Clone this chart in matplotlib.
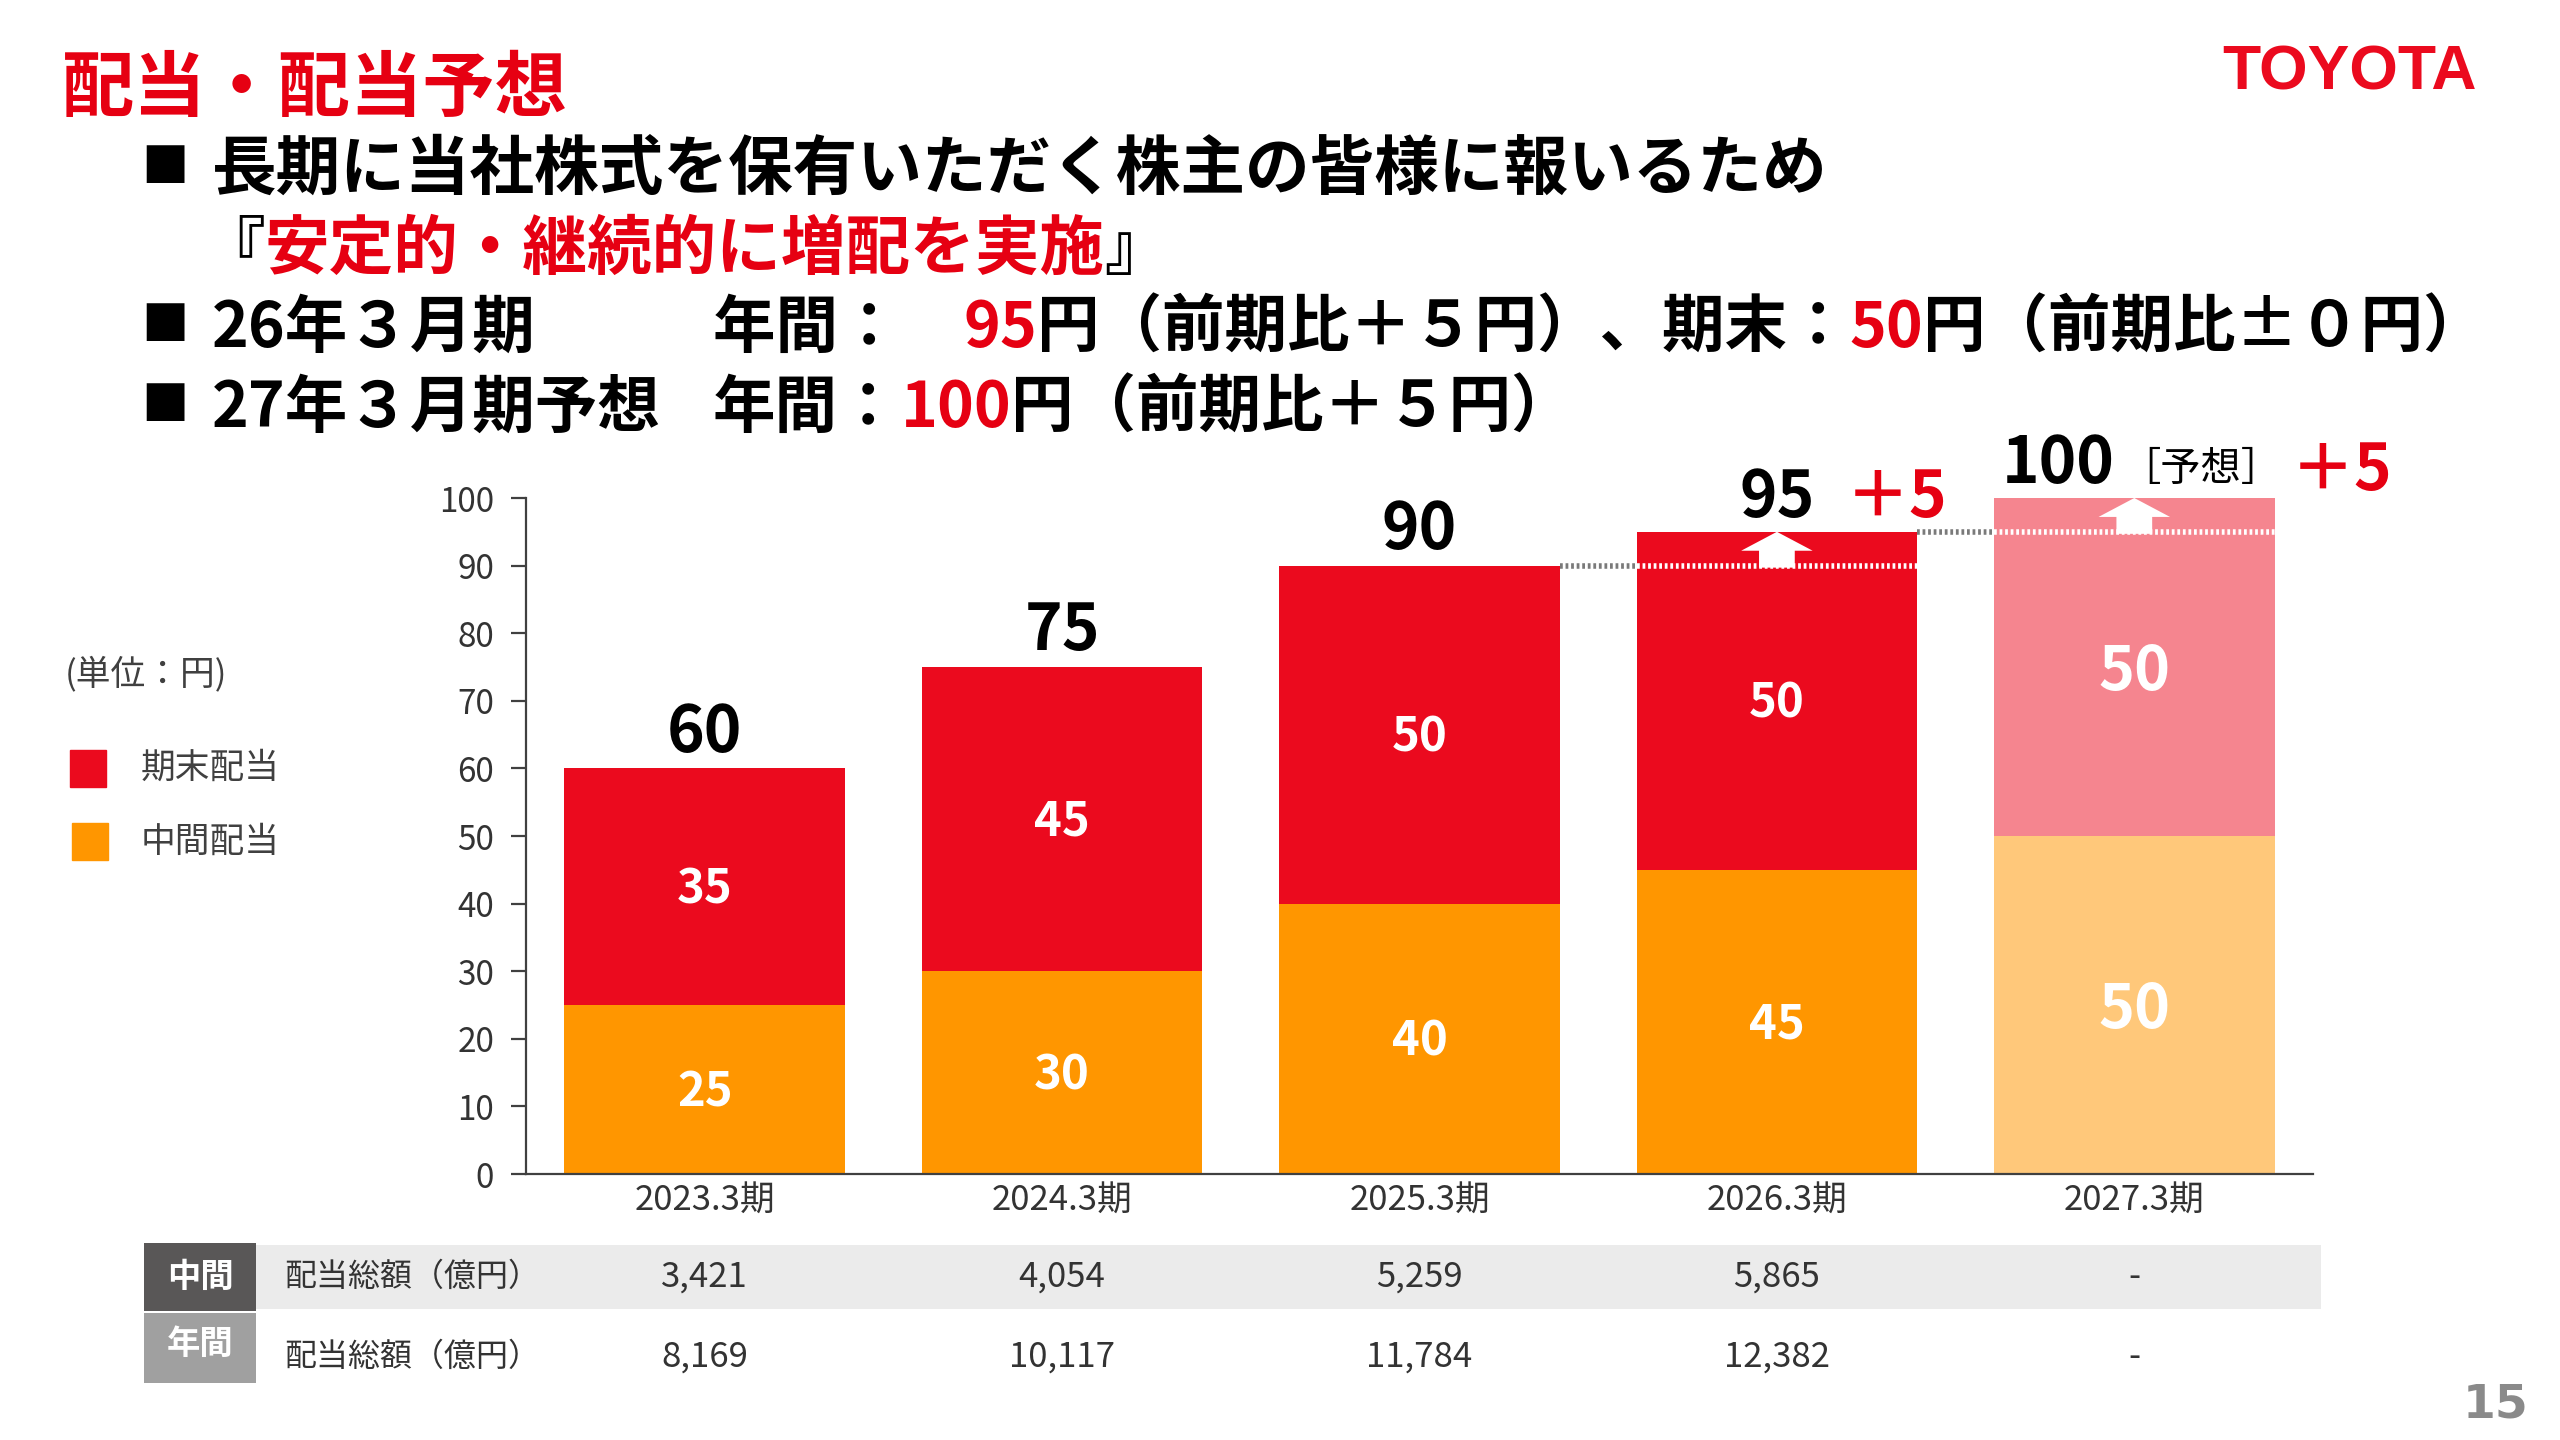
import matplotlib
matplotlib.use('Agg')
import matplotlib.pyplot as plt
from matplotlib.patches import Rectangle, FancyArrow
import matplotlib.transforms as mtransforms
import numpy as np

plt.rcParams['font.family'] = ['Noto Sans CJK JP', 'DejaVu Sans']

# ---------------- data ----------------
periods = ['2023.3期', '2024.3期', '2025.3期', '2026.3期', '2027.3期']
interim = [25, 30, 40, 45, 50]
year_end = [35, 45, 50, 50, 50]
forecast = [False, False, False, False, True]
show_change = [False, False, False, True, True]
interim_total = ['3,421', '4,054', '5,259', '5,865', '-']
annual_total = ['8,169', '10,117', '11,784', '12,382', '-']
yticks = list(range(0, 101, 10))

# ---------------- style ----------------
RED = '#EB0A1E'
ORANGE = '#FF9600'
RED_F = '#F5858F'
ORANGE_F = '#FFC87A'
TITLE_RED = '#E60012'
TXT = '#333333'

W, H = 2560, 1440
fig = plt.figure(figsize=(25.6, 14.4), dpi=100)
bg = fig.add_axes([0, 0, 1, 1])
bg.set_xlim(0, 1); bg.set_ylim(0, 1); bg.axis('off')


def fx(px):
    return px / W


def fy(py):
    return 1 - py / H


def chain(first, parts, size, weight='bold'):
    prev = first
    for s, c in parts:
        prev = bg.annotate(s, xy=(1, 0), xycoords=prev, ha='left', va='bottom',
                           fontsize=size, fontweight=weight, color=c,
                           annotation_clip=False)
    return prev


def bullet(ybase):
    bg.text(fx(141), fy(ybase - 7), '■', fontsize=34, fontweight='bold',
            color='black', ha='left', va='baseline')


# ---------------- header ----------------
bg.text(fx(62), fy(90), '配当・配当予想', fontsize=52, fontweight='bold',
        color=TITLE_RED, ha='left', va='center')
bg.text(fx(2222), fy(89), 'TOYOTA', fontsize=45, fontweight='bold',
        color=RED, ha='left', va='baseline', family='Liberation Sans')
bg.text(fx(2528), fy(1418), '15', fontsize=34, fontweight='bold',
        color='#8A8A8A', ha='right', va='baseline', family='DejaVu Sans')

BL = 46.5
BS = 45
bullet(189)
bg.text(fx(212), fy(189), '長期に当社株式を保有いただく株主の皆様に報いるため',
        fontsize=BL, fontweight='bold', color='black', ha='left', va='baseline')
t = bg.text(fx(200), fy(269), '『', fontsize=BL, fontweight='bold',
            color='black', ha='left', va='baseline')
chain(t, [('安定的・継続的に増配を実施', TITLE_RED), ('』', 'black')], BL)

bullet(347)
bg.text(fx(212), fy(347), '26年３月期', fontsize=BS, fontweight='bold',
        color='black', ha='left', va='baseline')
t = bg.text(fx(713), fy(347), '年間：　', fontsize=BS, fontweight='bold',
            color='black', ha='left', va='baseline')
chain(t, [('95', TITLE_RED), ('円（前期比＋５円）、期末：', 'black'),
          ('50', TITLE_RED), ('円（前期比±０円）', 'black')], BS)

bullet(427)
bg.text(fx(212), fy(427), '27年３月期予想', fontsize=BS, fontweight='bold',
        color='black', ha='left', va='baseline')
t = bg.text(fx(713), fy(427), '年間：', fontsize=BS, fontweight='bold',
            color='black', ha='left', va='baseline')
chain(t, [('100', TITLE_RED), ('円（前期比＋５円）', 'black')], BS)

# ---------------- legend ----------------
bg.text(fx(65), fy(674), '(単位：円)', fontsize=25, color='#404040',
        ha='left', va='center')
bg.add_patch(Rectangle((fx(70), fy(787)), fx(36), 37 / H, color=RED))
bg.text(fx(141), fy(768), '期末配当', fontsize=25, color='#404040',
        ha='left', va='center')
bg.add_patch(Rectangle((fx(72), fy(860)), fx(36), 37 / H, color=ORANGE))
bg.text(fx(141), fy(842), '中間配当', fontsize=25, color='#404040',
        ha='left', va='center')

# ---------------- chart ----------------
ax = fig.add_axes([fx(526), fy(1174), fx(2313) - fx(526), (1174 - 498) / H])
ax.patch.set_alpha(0)
x = np.arange(len(periods))
bw = 0.785
totals = [a + b for a, b in zip(interim, year_end)]
c_low = [ORANGE_F if f else ORANGE for f in forecast]
c_up = [RED_F if f else RED for f in forecast]
ax.bar(x, interim, bw, color=c_low, zorder=2)
ax.bar(x, year_end, bw, bottom=interim, color=c_up, zorder=2)

for i in range(len(x)):
    s = 44 if forecast[i] else 34
    dy = -4 if forecast[i] else -2
    ax.annotate(str(interim[i]), xy=(x[i], interim[i] / 2), xytext=(0, dy),
                textcoords='offset points', ha='center', va='center',
                fontsize=s, fontweight='bold', color='white', zorder=5)
    ax.annotate(str(year_end[i]), xy=(x[i], interim[i] + year_end[i] / 2),
                xytext=(0, dy), textcoords='offset points', ha='center',
                va='center', fontsize=s, fontweight='bold', color='white',
                zorder=5)

for i in range(len(x)):
    if not show_change[i]:
        ax.annotate(str(totals[i]), xy=(x[i], totals[i]), xytext=(0, 12),
                    textcoords='offset points', ha='center', va='baseline',
                    fontsize=46, fontweight='bold', color='black',
                    annotation_clip=False)
        continue
    diff = totals[i] - totals[i - 1]
    if forecast[i]:
        ax.annotate(str(totals[i]), xy=(x[i], totals[i]), xytext=(-55, 11),
                    textcoords='offset points', ha='center', va='baseline',
                    fontsize=46, fontweight='bold', color='black',
                    annotation_clip=False)
        ax.annotate('［予想］', xy=(x[i], totals[i]), xytext=(48, 12),
                    textcoords='offset points', ha='center', va='baseline',
                    fontsize=29, color='black', annotation_clip=False)
        ax.annotate(f'＋{diff}', xy=(x[i], totals[i]), xytext=(149, 6),
                    textcoords='offset points', ha='center', va='baseline',
                    fontsize=46, fontweight='bold', color=TITLE_RED,
                    annotation_clip=False)
    else:
        ax.annotate(str(totals[i]), xy=(x[i], totals[i]), xytext=(0, 11),
                    textcoords='offset points', ha='center', va='baseline',
                    fontsize=46, fontweight='bold', color='black',
                    annotation_clip=False)
        ax.annotate(f'＋{diff}', xy=(x[i], totals[i]), xytext=(86, 11),
                    textcoords='offset points', ha='center', va='baseline',
                    fontsize=46, fontweight='bold', color=TITLE_RED,
                    annotation_clip=False)
    # dotted reference line and arrow
    yprev = totals[i - 1]
    ax.plot([x[i - 1] + bw / 2, x[i] - bw / 2], [yprev, yprev], color='#7A7A7A',
            lw=4, ls=(0, (0.5, 0.5)), zorder=3, dash_capstyle='butt')
    ax.plot([x[i] - bw / 2, x[i] + bw / 2], [yprev, yprev], color='white',
            lw=4, ls=(0, (0.5, 0.5)), zorder=3, dash_capstyle='butt')
    ax.add_patch(FancyArrow(x[i], yprev - 0.3, 0, diff + 0.3, width=0.1,
                            head_width=0.2, head_length=2.8,
                            length_includes_head=True, color='white',
                            lw=0, zorder=4))

ax.set_xlim(-0.5, 4.5)
ax.set_ylim(0, 100)
ax.set_yticks(yticks)
for sp in ['top', 'right']:
    ax.spines[sp].set_visible(False)
for sp in ['left', 'bottom']:
    ax.spines[sp].set_color('#404040')
    ax.spines[sp].set_linewidth(1.6)
ax.tick_params(axis='y', length=11, width=1.6, color='#404040', labelsize=24,
               labelcolor=TXT, pad=12)
ax.set_xticks(x, periods)
ax.tick_params(axis='x', length=0, labelsize=25, labelcolor=TXT, pad=7)

# ---------------- table ----------------
bg.add_patch(Rectangle((fx(256), fy(1309)), fx(2321 - 256), 64 / H,
                       color='#EBEBEB', lw=0))
bg.add_patch(Rectangle((fx(144), fy(1311)), fx(112), 68 / H,
                       color='#595757', lw=0))
bg.add_patch(Rectangle((fx(144), fy(1383)), fx(112), 70 / H,
                       color='#A0A0A0', lw=0))
bg.text(fx(200), fy(1277), '中間', fontsize=24, fontweight='bold',
        color='white', ha='center', va='center')
bg.text(fx(200), fy(1344), '年間', fontsize=24, fontweight='bold',
        color='white', ha='center', va='center')
bg.text(fx(284), fy(1277), '配当総額（億円）', fontsize=23, color=TXT,
        ha='left', va='center')
bg.text(fx(284), fy(1357), '配当総額（億円）', fontsize=23, color=TXT,
        ha='left', va='center')
tr = mtransforms.blended_transform_factory(ax.transData, fig.transFigure)
for i in range(len(x)):
    fig.text(x[i], fy(1277), interim_total[i], transform=tr, fontsize=25,
             color=TXT, ha='center', va='center')
    fig.text(x[i], fy(1357), annual_total[i], transform=tr, fontsize=25,
             color=TXT, ha='center', va='center')

fig.savefig('out.png', dpi=100)
